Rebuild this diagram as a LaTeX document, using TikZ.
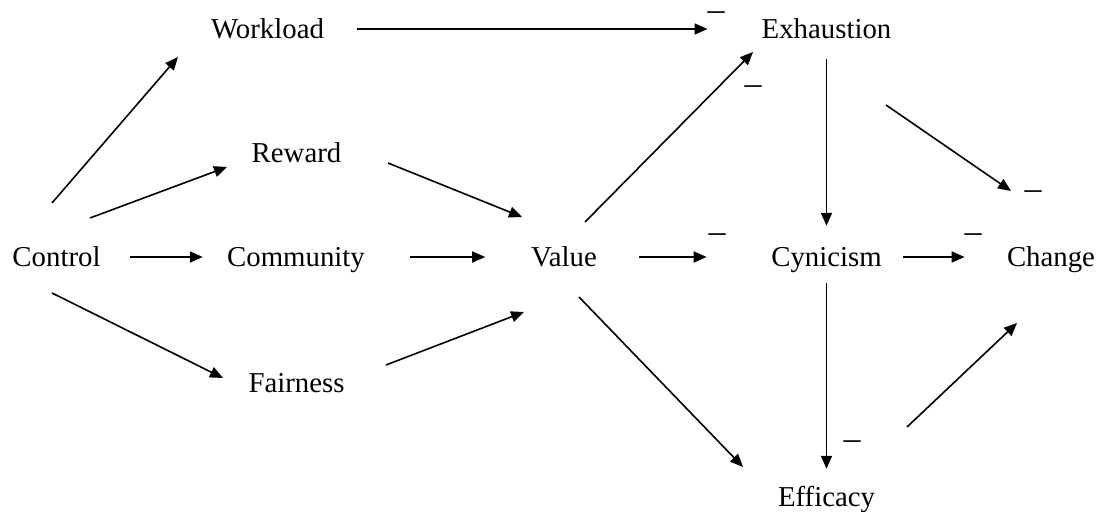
\documentclass[tikz,border=0pt]{standalone}
\usepackage{fontspec}
\setmainfont{Liberation Serif}
\usetikzlibrary{arrows.meta}

\begin{document}
\begin{tikzpicture}[
    x=0.5pt, y=-0.5pt,
    factor/.style={inner sep=0pt, text height=0.98em, text depth=0pt, font=\fontsize{14.4}{17}\selectfont},
    sign/.style={inner sep=0pt, text height=0.7em, text depth=0pt, font=\fontsize{17}{20}\selectfont},
    arrow/.style={-{Triangle[length=6.5pt, width=5.5pt]}, line width=0.8pt}]

\useasboundingbox (0,0) rectangle (1101,512);

\node[factor] (workload) at (267.5,29) {Workload};
\node[factor] (exhaustion) at (826.5,29) {Exhaustion};
\node[factor] (reward) at (296.5,153) {Reward};
\node[factor] (control) at (56.5,257) {Control};
\node[factor] (community) at (296,257) {Community};
\node[factor] (value) at (564,257) {Value};
\node[factor] (cynicism) at (826.5,257) {Cynicism};
\node[factor] (change) at (1051,257) {Change};
\node[factor] (fairness) at (296.5,383) {Fairness};
\node[factor] (efficacy) at (826.5,497) {Efficacy};

% negative signs
\node[sign] (neg1) at (716,14) {–};
\node[sign] (neg2) at (753,88) {–};
\node[sign] (neg3) at (717,236) {–};
\node[sign] (neg4) at (1033,193) {–};
\node[sign] (neg5) at (973,236) {–};
\node[sign] (neg6) at (852,443) {–};

\draw[arrow] ([shift={(-4.5,-54)}]control.center) -- ([shift={(-89.5,28)}]workload.center);
\draw[arrow] ([shift={(33.5,-39)}]control.center) -- ([shift={(-69.5,14)}]reward.center);
\draw[arrow, shorten <=14.75pt, shorten >=12pt] (control) -- (community);
\draw[arrow] ([shift={(-4.5,36)}]control.center) -- ([shift={(-73.5,-5)}]fairness.center);
\draw[arrow] ([shift={(91.5,10)}]reward.center) -- ([shift={(-42,-40)}]value.center);
\draw[arrow, shorten <=22.6pt, shorten >=22.8pt] (community) -- (value);
\draw[arrow] ([shift={(89.5,-18)}]fairness.center) -- ([shift={(-40,55)}]value.center);
\draw[arrow, shorten <=16.5pt, shorten >=26.9pt] (workload) -- (exhaustion);
\draw[arrow] ([shift={(21,-35)}]value.center) -- ([shift={(-73.5,23)}]exhaustion.center);
\draw[arrow, shorten <=20.8pt, shorten >=32.1pt] (value) -- (cynicism);
\draw[arrow, shorten <=10pt, shorten >=10.5pt] (exhaustion) -- (cynicism);
\draw[arrow] ([shift={(59.5,76)}]exhaustion.center) -- ([shift={(-40,-66)}]change.center);
\draw[arrow, shorten <=10.6pt, shorten >=21pt] (cynicism) -- (change);
\draw[arrow, shorten <=8pt, shorten >=9pt] (cynicism) -- (efficacy);
\draw[arrow] ([shift={(15,40)}]value.center) -- ([shift={(-83.5,-30)}]efficacy.center);
\draw[arrow] ([shift={(80.5,-70)}]efficacy.center) -- ([shift={(-34,66)}]change.center);

\end{tikzpicture}
\end{document}
